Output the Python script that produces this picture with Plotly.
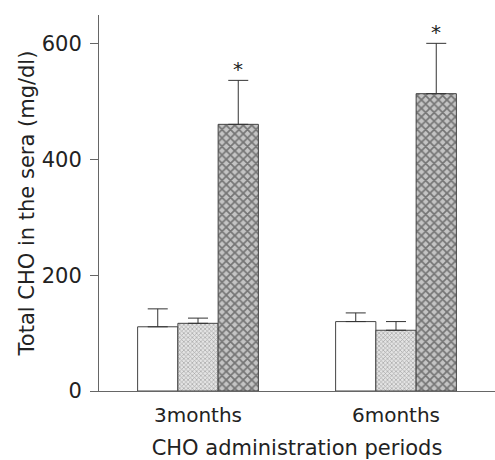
import plotly.graph_objects as go

categories = ["3months", "6months"]
group_names = ["Control", "Low", "High"]
means = {
    "Control": [111, 120],
    "Low": [117, 105],
    "High": [461, 514],
}
errors = {
    "Control": [31, 15],
    "Low": [9, 15],
    "High": [76, 87],
}
significant = {"High": [True, True]}
y_ticks = [0, 200, 400, 600]

FONT = "DejaVu Sans"
TXT = "#222222"

patterns = {
    "Control": dict(shape="", bgcolor="white"),
    "Low": dict(shape="x", size=3, solidity=0.4, fgcolor="#666666", bgcolor="#e4e4e4"),
    "High": dict(shape="x", size=6, solidity=0.5, fgcolor="#262626", bgcolor="#c4c4c4"),
}

fig = go.Figure()
for name in group_names:
    fig.add_trace(go.Bar(
        x=categories,
        y=means[name],
        name=name,
        marker=dict(color="white", line=dict(color="#444444", width=1),
                    pattern=patterns[name]),
        error_y=dict(type="data", symmetric=False, array=errors[name],
                     arrayminus=[0] * len(categories),
                     color="#333333", thickness=1, width=10),
    ))

bargap = 0.39
bar_w = (1 - bargap) / len(group_names)
for gi, name in enumerate(group_names):
    if name in significant:
        for ci, flag in enumerate(significant[name]):
            if flag:
                fig.add_annotation(
                    x=ci + (gi - (len(group_names) - 1) / 2) * bar_w,
                    y=means[name][ci] + errors[name][ci],
                    text="*", showarrow=False, yanchor="bottom", yshift=-3,
                    font=dict(family=FONT, size=20, color=TXT),
                )

fig.update_layout(
    width=495, height=460,
    margin=dict(l=99, r=0, t=15, b=69),
    paper_bgcolor="white", plot_bgcolor="white",
    barmode="group", bargap=bargap, bargroupgap=0,
    showlegend=False,
    font=dict(family=FONT, color=TXT),
)
fig.update_xaxes(
    range=[-0.5, 1.5],
    automargin=False,
    showline=True, linecolor="#666666", linewidth=1,
    ticks="", showgrid=False,
    ticklabelstandoff=6,
    tickfont=dict(family=FONT, size=20, color=TXT),
    title=dict(text="CHO administration periods",
               font=dict(family=FONT, size=21, color=TXT), standoff=19),
)
fig.update_yaxes(
    range=[0, 650],
    automargin=False,
    tickvals=y_ticks,
    showline=True, linecolor="#666666", linewidth=1,
    ticks="outside", ticklen=8, tickcolor="#666666",
    ticklabelstandoff=4,
    showgrid=False, zeroline=False,
    tickfont=dict(family=FONT, size=21, color=TXT),
    title=dict(text="Total CHO in the sera (mg/dl)",
               font=dict(family=FONT, size=21, color=TXT), standoff=1),
)

fig.write_html("out.html",
               config={"displayModeBar": False},
               post_script="document.body.style.margin='0';document.body.style.padding='0';")
